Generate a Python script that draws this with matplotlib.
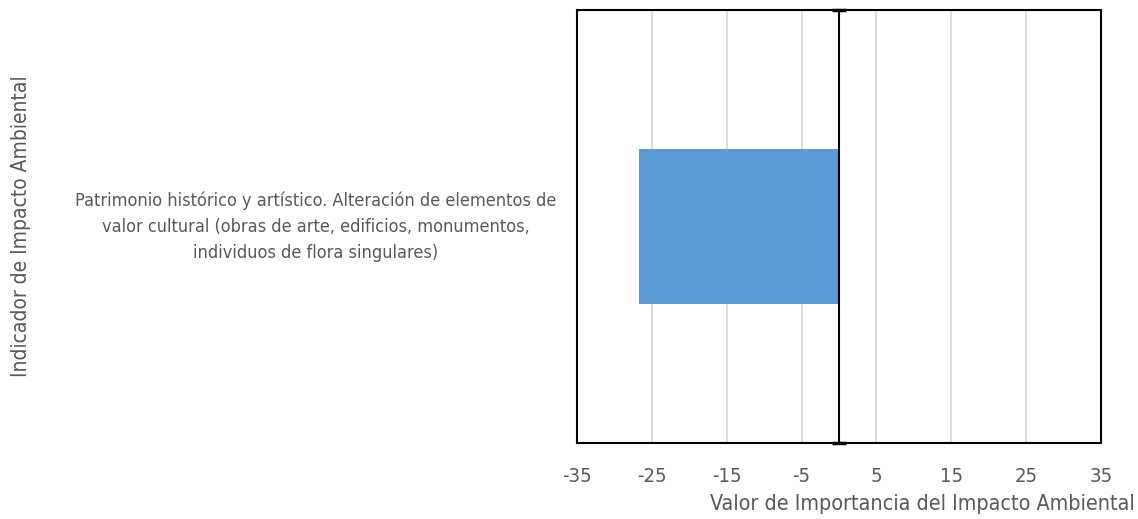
import matplotlib
matplotlib.use("Agg")
import matplotlib.pyplot as plt
import matplotlib.transforms as mtransforms
import numpy as np

# Data
categories = ["Patrimonio histórico y artístico. Alteración de elementos de\n"
              "valor cultural (obras de arte, edificios, monumentos,\n"
              "individuos de flora singulares)"]
values = [-26.7]
x_ticks = [-35, -25, -15, -5, 5, 15, 25, 35]

TEXT = "#595959"
plt.rcParams["font.family"] = ["DejaVu Sans"]
plt.rcParams["font.stretch"] = "condensed"

fig = plt.figure(figsize=(11.38, 5.19), dpi=100)
ax = fig.add_axes([577 / 1138, 1 - 443 / 519, (1101 - 577) / 1138, (443 - 10) / 519])

ypos = np.arange(len(categories))
ax.barh(ypos, values, height=0.356, color="#5B9BD5", zorder=2)

ax.set_xlim(-35, 35)
ax.set_ylim(-0.5, 0.5)
ax.set_xticks(x_ticks)
ax.set_xticklabels([str(t) for t in x_ticks])
ax.grid(axis="x", color="#d9d9d9", lw=1.3, zorder=0)
ax.set_axisbelow(True)

ax.tick_params(axis="x", length=0, pad=17, labelsize=14.5, labelcolor=TEXT)
ax.set_yticks(ypos)
ax.set_yticklabels(categories, multialignment="center", linespacing=1.55)
ax.tick_params(axis="y", length=0, pad=15, labelsize=13, labelcolor=TEXT)
# nudge the category label block up slightly
shift = mtransforms.ScaledTranslation(0, 4 / 72, fig.dpi_scale_trans)
for lbl in ax.get_yticklabels():
    lbl.set_transform(lbl.get_transform() + shift)

for s in ax.spines.values():
    s.set_color("black")
    s.set_linewidth(1.5)
    s.set_zorder(4)

# Category axis crossing at zero, with cross tick marks at the boundaries
ax.axvline(0, color="black", lw=1.5, zorder=3)
y0, y1 = ax.get_ylim()
ax.hlines([y0, y1], -1.0, 1.0, color="black", lw=2.5, clip_on=False, zorder=5)

fig.text(1135 / 1138, 1 - 504 / 519, "Valor de Importancia del Impacto Ambiental",
         ha="right", va="center", fontsize=15.4, color=TEXT)
fig.text(21 / 1138, 1 - 226 / 519, "Indicador de Impacto Ambiental",
         ha="center", va="center", rotation=90, fontsize=15, color=TEXT)

fig.savefig("out.png", dpi=100)
